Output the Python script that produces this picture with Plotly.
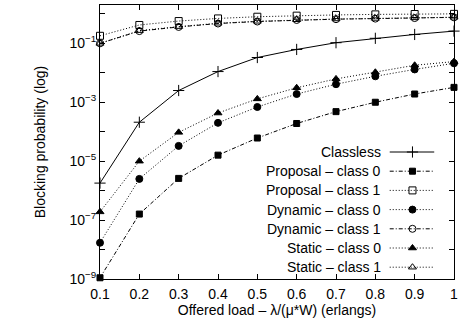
import plotly.graph_objects as go

# ---- data ----
load = [0.1, 0.2, 0.3, 0.4, 0.5, 0.6, 0.7, 0.8, 0.9, 1.0]
classless = [1.8e-6, 2.1e-4, 2.5e-3, 1.1e-2, 3.3e-2, 6.2e-2, 0.105, 0.148, 0.20, 0.26]
proposal_c0 = [1.1e-9, 1.6e-7, 2.6e-6, 1.6e-5, 6.1e-5, 1.9e-4, 4.8e-4, 1.0e-3, 1.9e-3, 3.2e-3]
proposal_c1 = [0.18, 0.42, 0.57, 0.70, 0.80, 0.87, 0.92, 0.96, 0.99, 1.0]
dynamic_c0 = [1.7e-8, 2.5e-6, 3.3e-5, 2.0e-4, 6.9e-4, 1.9e-3, 4.1e-3, 7.6e-3, 1.3e-2, 2.1e-2]
dynamic_c1 = [0.10, 0.26, 0.36, 0.47, 0.55, 0.62, 0.66, 0.69, 0.72, 0.76]
static_c0 = [1.9e-7, 1.0e-5, 9.5e-5, 4.3e-4, 1.3e-3, 3.1e-3, 6.2e-3, 1.04e-2, 1.8e-2, 2.4e-2]
static_c1 = [0.10, 0.27, 0.37, 0.48, 0.56, 0.63, 0.67, 0.70, 0.73, 0.77]

names = ["Classless", "Proposal \u2013 class 0", "Proposal \u2013 class 1",
         "Dynamic \u2013 class 0", "Dynamic \u2013 class 1",
         "Static \u2013 class 0", "Static \u2013 class 1"]
series = [classless, proposal_c0, proposal_c1, dynamic_c0, dynamic_c1, static_c0, static_c1]

x_ticks = [0.1, 0.2, 0.3, 0.4, 0.5, 0.6, 0.7, 0.8, 0.9, 1]
x_ticktext = ["0.1", "0.2", "0.3", "0.4", "0.5", "0.6", "0.7", "0.8", "0.9", "1"]
y_label_exps = [-9, -7, -5, -3, -1]
y_minor_exps = [-8, -6, -4, -2, 0]

# ---- styles ----
DOT = "1px,2px"
DASHDOT = "4px,2px,1px,2px"
styles = [
    dict(symbol="cross-thin-open", size=8, dash="solid"),
    dict(symbol="square", size=6, dash=DASHDOT),
    dict(symbol="square-open", size=7, dash=DOT),
    dict(symbol="circle", size=7, dash=DOT),
    dict(symbol="circle-open", size=7, dash=DASHDOT),
    dict(symbol="triangle-up", size=7, dash=DOT),
    dict(symbol="triangle-up-open", size=7, dash=DOT),
]

FONT = "Liberation Sans"
FS = 14
L, R, T, B = 100, 458, 5, 279
W, H = 461, 330
XR = [0.1, 1.0]
YR = [-9, 0.301]


def px2x(px):
    return XR[0] + (px - L) / (R - L) * (XR[1] - XR[0])


def py2y(py):
    return 10 ** (YR[1] - (py - T) / (B - T) * (YR[1] - YR[0]))


def py2paper(py):
    return 1 - (py - T) / (B - T)


def px2paper(px):
    return (px - L) / (R - L)


fig = go.Figure()
for name, ys, st in zip(names, series, styles):
    fig.add_trace(go.Scatter(
        x=load, y=ys, mode="lines+markers", name=name, cliponaxis=False,
        line=dict(color="black", width=1, dash=st["dash"]),
        marker=dict(symbol=st["symbol"], size=st["size"], color="black",
                    line=dict(color="black", width=1)),
        showlegend=False))

# ---- gnuplot-style legend (key samples on the right of the text) ----
leg_y0 = 152
leg_dy = 19.2
for i, (name, st) in enumerate(zip(names, styles)):
    yy = leg_y0 + i * leg_dy
    fig.add_trace(go.Scatter(
        x=[px2x(393), px2x(438)], y=[py2y(yy)] * 2,
        mode="lines", showlegend=False, hoverinfo="skip",
        line=dict(color="black", width=1, dash=st["dash"])))
    fig.add_trace(go.Scatter(
        x=[px2x(416)], y=[py2y(yy)],
        mode="markers", showlegend=False, hoverinfo="skip",
        marker=dict(symbol=st["symbol"], size=st["size"], color="black",
                    line=dict(color="black", width=1))))
    fig.add_annotation(x=px2paper(386), y=py2paper(yy), xref="paper", yref="paper",
                       text=name, showarrow=False, xanchor="right", yanchor="middle",
                       font=dict(family=FONT, size=FS, color="black"))

ytickvals = [10.0 ** e for e in y_label_exps]
yticktext = ["10<sup>\u2212%d</sup>" % (-e) for e in y_label_exps]
yminorvals = [10.0 ** e for e in y_minor_exps]

fig.update_layout(
    width=W, height=H,
    margin=dict(l=L, r=W - R, t=T, b=H - B),
    plot_bgcolor="white", paper_bgcolor="white",
    font=dict(family=FONT, size=FS, color="black"),
    xaxis=dict(range=XR, tickvals=x_ticks, ticktext=x_ticktext,
               ticks="inside", ticklen=5, tickcolor="black",
               ticklabeloverflow="allow", ticklabelstandoff=2,
               showline=True, linecolor="black", linewidth=1, mirror="allticks",
               showgrid=False, zeroline=False,
               title=dict(text="Offered load \u2013 \u03bb/(\u03bc*W) (erlangs)", standoff=0,
                          font=dict(size=FS))),
    yaxis=dict(type="log", range=YR, tickvals=ytickvals, ticktext=yticktext,
               ticks="inside", ticklen=5, tickcolor="black",
               ticklabeloverflow="allow",
               minor=dict(tickmode="array", tickvals=yminorvals, ticks="inside",
                          ticklen=5, tickcolor="black", showgrid=False),
               showline=True, linecolor="black", linewidth=1, mirror="allticks",
               showgrid=False, zeroline=False,
               title=dict(text="Blocking probability (log)", standoff=20,
                          font=dict(size=FS))),
)

fig.write_html("out.html", config={"displayModeBar": False},
               post_script="document.body.style.margin='0';")
